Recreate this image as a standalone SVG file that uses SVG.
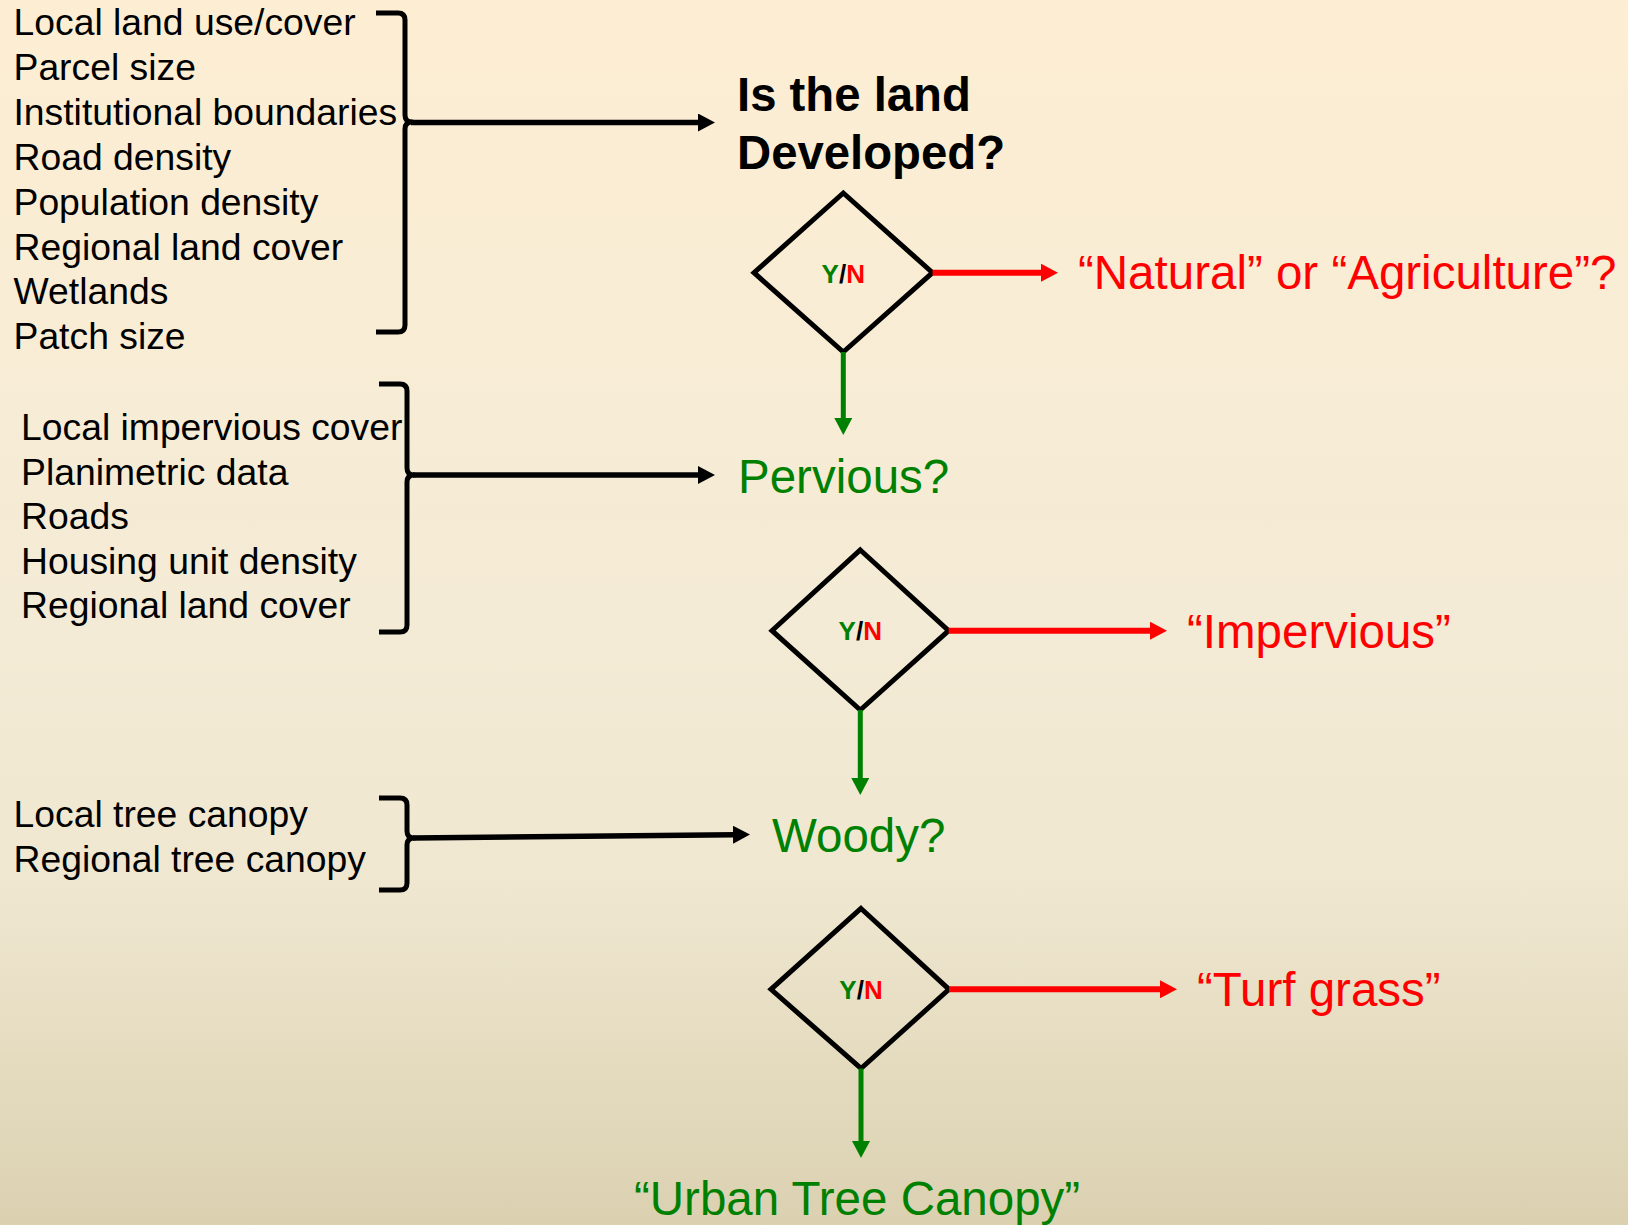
<svg xmlns="http://www.w3.org/2000/svg" width="1628" height="1225" viewBox="0 0 1628 1225">
<defs>
<linearGradient id="bg" x1="0" y1="0" x2="0" y2="1">
<stop offset="0" stop-color="#FDEED3"/>
<stop offset="0.5" stop-color="#F4EBD6"/>
<stop offset="0.72" stop-color="#EFE7D0"/>
<stop offset="1" stop-color="#DBD1B1"/>
</linearGradient>
<marker id="ahK" markerUnits="userSpaceOnUse" markerWidth="18" markerHeight="18" refX="1" refY="9" orient="auto"><path d="M0,0 L17,9 L0,18 z" fill="#000"/></marker>
<marker id="ahR" markerUnits="userSpaceOnUse" markerWidth="18" markerHeight="18" refX="1" refY="9" orient="auto"><path d="M0,0 L17,9 L0,18 z" fill="#FF0000"/></marker>
<marker id="ahG" markerUnits="userSpaceOnUse" markerWidth="18" markerHeight="18" refX="1" refY="9" orient="auto"><path d="M0,0 L17,9 L0,18 z" fill="#008000"/></marker>
</defs>
<style>
.list{font-family:"Liberation Sans",Arial,sans-serif;font-size:37.3px;fill:#000}
.big{font-family:"Liberation Sans",Arial,sans-serif;font-size:47.5px}
.title{font-family:"Liberation Sans",Arial,sans-serif;font-size:47.3px;font-weight:bold;fill:#000}
.yn{font-family:"Liberation Sans",Arial,sans-serif;font-size:26px;font-weight:bold}
.g{fill:#008000}.r{fill:#FF0000}.k{fill:#000}
.brace{fill:none;stroke:#000;stroke-width:5;stroke-linejoin:round}
.dia{fill:none;stroke:#000;stroke-width:5;stroke-linejoin:miter}
.ck{stroke:#000;stroke-width:5.5;fill:none}
.cr{stroke:#FF0000;stroke-width:6;fill:none}
.cg{stroke:#008000;stroke-width:5;fill:none}
</style>
<rect x="0" y="0" width="1628" height="1225" fill="url(#bg)"/>

<g id="list1">
<text class="list" x="13.5" y="35">Local land use/cover</text>
<text class="list" x="13.5" y="80">Parcel size</text>
<text class="list" x="13.5" y="125">Institutional boundaries</text>
<text class="list" x="13.5" y="170">Road density</text>
<text class="list" x="13.5" y="215">Population density</text>
<text class="list" x="13.5" y="260">Regional land cover</text>
<text class="list" x="13.5" y="304">Wetlands</text>
<text class="list" x="13.5" y="349">Patch size</text>
<path class="brace" d="M376,13 L398,13 Q405,13 405,20 L405,115 Q405,122 412,122 Q405,122 405,129 L405,325 Q405,332 398,332 L376,332"/>
</g>

<g id="list2">
<text class="list" x="21" y="440">Local impervious cover</text>
<text class="list" x="21" y="484.6">Planimetric data</text>
<text class="list" x="21" y="529.2">Roads</text>
<text class="list" x="21" y="573.8">Housing unit density</text>
<text class="list" x="21" y="618.4">Regional land cover</text>
<path class="brace" d="M379,384 L400,384 Q407,384 407,391 L407,468 Q407,475 414,475 Q407,475 407,482 L407,625 Q407,632 400,632 L379,632"/>
</g>

<g id="list3">
<text class="list" x="13.5" y="827">Local tree canopy</text>
<text class="list" x="13.5" y="872">Regional tree canopy</text>
<path class="brace" d="M379,798 L400,798 Q407,798 407,805 L407,831 Q407,838 414,838 Q407,838 407,845 L407,883 Q407,890 400,890 L379,890"/>
</g>

<g id="q-developed">
<text class="title" x="737" y="111">Is the land</text>
<text class="title" x="737" y="169">Developed?</text>
</g>

<g id="d1">
<polygon class="dia" points="843.3,193 932.5,272.7 843.3,352 754,272.7"/>
<text class="yn" x="843.3" y="282.5" text-anchor="middle"><tspan class="g">Y</tspan><tspan class="k">/</tspan><tspan class="r">N</tspan></text>
</g>

<g id="natural">
<text class="big r" x="1078" y="289">“Natural” or “Agriculture”?</text>
</g>

<g id="q-pervious">
<text class="big g" x="738" y="493">Pervious?</text>
</g>

<g id="d2">
<polygon class="dia" points="860.3,550 948.6,630.7 860.3,710 772,630.7"/>
<text class="yn" x="860.3" y="640.3" text-anchor="middle"><tspan class="g">Y</tspan><tspan class="k">/</tspan><tspan class="r">N</tspan></text>
</g>

<g id="impervious">
<text class="big r" x="1187" y="648">“Impervious”</text>
</g>

<g id="q-woody">
<text class="big g" x="772" y="852">Woody?</text>
</g>

<g id="d3">
<polygon class="dia" points="861,908.5 949,989.3 861,1068.5 771,989.3"/>
<text class="yn" x="861" y="999" text-anchor="middle"><tspan class="g">Y</tspan><tspan class="k">/</tspan><tspan class="r">N</tspan></text>
</g>

<g id="turf">
<text class="big r" x="1197" y="1006">“Turf grass”</text>
</g>

<g id="utc">
<text class="big g" x="634" y="1215">“Urban Tree Canopy”</text>
</g>

<g id="connectors">
<line class="ck" x1="411" y1="122.5" x2="699" y2="122.5" marker-end="url(#ahK)"/>
<line class="ck" x1="413" y1="475" x2="699" y2="475" marker-end="url(#ahK)"/>
<line class="ck" x1="413" y1="838" x2="734" y2="834.7" marker-end="url(#ahK)"/>
<line class="cr" x1="932.5" y1="272.7" x2="1042" y2="272.7" marker-end="url(#ahR)"/>
<line class="cr" x1="948.6" y1="630.7" x2="1151" y2="630.7" marker-end="url(#ahR)"/>
<line class="cr" x1="949" y1="989.3" x2="1161" y2="989.3" marker-end="url(#ahR)"/>
<line class="cg" x1="843.3" y1="352" x2="843.3" y2="419" marker-end="url(#ahG)"/>
<line class="cg" x1="860.3" y1="710" x2="860.3" y2="779" marker-end="url(#ahG)"/>
<line class="cg" x1="861" y1="1068.5" x2="861" y2="1142" marker-end="url(#ahG)"/>
</g>
</svg>
